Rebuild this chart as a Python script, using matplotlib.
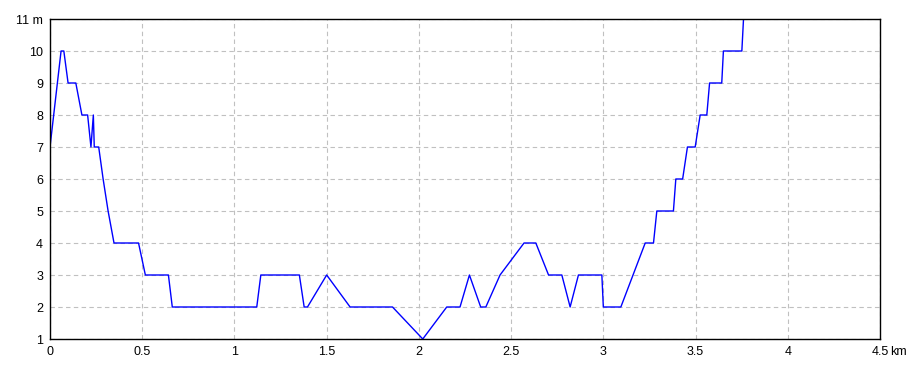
import numpy as np
import matplotlib
matplotlib.use("Agg")
import matplotlib.pyplot as plt

plt.rcParams['font.family'] = ['Liberation Sans', 'DejaVu Sans']

# elevation profile (km, m)
dist = [0.0, 0.06, 0.075, 0.098, 0.14, 0.173, 0.204, 0.222, 0.235, 0.24, 0.264,
        0.288, 0.315, 0.347, 0.48, 0.517, 0.642, 0.663, 1.121, 1.143, 1.352,
        1.378, 1.396, 1.50, 1.627, 1.857, 2.021, 2.151, 2.223, 2.274, 2.335,
        2.363, 2.44, 2.57, 2.634, 2.703, 2.775, 2.82, 2.865, 2.992, 3.0,
        3.095, 3.227, 3.272, 3.29, 3.38, 3.393, 3.43, 3.456, 3.498, 3.525,
        3.561, 3.576, 3.642, 3.651, 3.751, 3.76]
elev = [7, 10, 10, 9, 9, 8, 8, 7, 8, 7, 7,
        6, 5, 4, 4, 3, 3, 2, 2, 3, 3,
        2, 2, 3, 2, 2, 1, 2, 2, 3, 2,
        2, 3, 4, 4, 3, 3, 2, 3, 3, 2,
        2, 4, 4, 5, 5, 6, 6, 7, 7, 8,
        8, 9, 9, 10, 10, 11]

xticks = [0, 0.5, 1, 1.5, 2, 2.5, 3, 3.5, 4, 4.5]
xlabels = ["0", "0.5", "1", "1.5", "2", "2.5", "3", "3.5", "4", "4.5"]
yticks = [1, 2, 3, 4, 5, 6, 7, 8, 9, 10, 11]
ylabels = ["1", "2", "3", "4", "5", "6", "7", "8", "9", "10", "11 m"]

fig = plt.figure(figsize=(9.2, 3.68), dpi=100)
ax = fig.add_axes([50/920, 29/368, 830/920, 320/368])

ax.plot(dist, elev, color="#0000ff", lw=1.0)

ax.set_xlim(0, 4.5)
ax.set_ylim(1, 11)
ax.set_xticks(xticks)
ax.set_xticklabels(xlabels)
ax.set_yticks(yticks)
ax.set_yticklabels(ylabels)
ax.tick_params(length=0, labelsize=9, pad=5)
ax.grid(True, color="#c0c0c0", linestyle=(0, (4, 3)), lw=0.8)
for s in ax.spines.values():
    s.set_linewidth(1.0)

# unit after the last distance label
ax.annotate("km", xy=(4.5, 0), xycoords=ax.get_xaxis_transform(),
            xytext=(7, -5), textcoords="offset points",
            ha="left", va="top", fontsize=9)

fig.savefig("out.png", dpi=100)
